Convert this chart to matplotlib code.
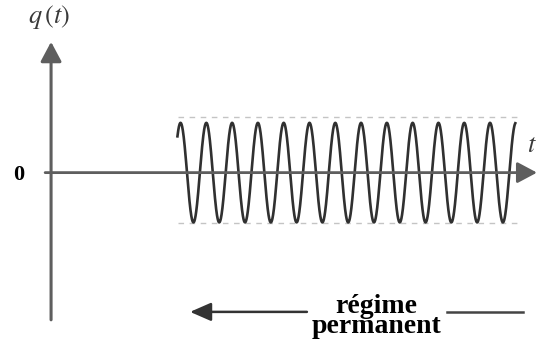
import numpy as np
import matplotlib.pyplot as plt

plt.rcParams['mathtext.fontset'] = 'stix'

# steady-state oscillation q(t) = A cos(2*pi*(t - t_peak)/T)
t_start, t_end = 4.90, 18.0
period = 1.0
amplitude = 0.94
t_peak = 5.02
envelope = [1.05, -0.96]          # dashed bounds of the oscillation
env_span = [4.92, 18.1]

# axes extent (t for horizontal, q for vertical)
t_axis = [-0.23, 18.84]
q_axis = [-2.78, 2.47]

# "régime permanent" arrow
q_regime = -2.63
regime_left = [5.39, 9.92]        # tip, tail
regime_right = [15.35, 18.29]
label = 'régime\npermanent'

fig = plt.figure(figsize=(5.38, 3.41), dpi=100)
ax = fig.add_axes([0, 0, 1, 1])
ax.set_xlim(-1.98, 18.88)
ax.set_ylim(-3.18, 3.26)
ax.axis('off')

axis_col = '#5e5e5e'
head = '-|>,head_length=0.75,head_width=0.4'

# coordinate axes
ax.annotate('', xy=(0, q_axis[1]), xytext=(0, q_axis[0]),
            arrowprops=dict(arrowstyle=head, color=axis_col, lw=2.2,
                            shrinkA=0, shrinkB=0, mutation_scale=16))
ax.annotate('', xy=(t_axis[1], 0), xytext=(t_axis[0], 0),
            arrowprops=dict(arrowstyle=head, color=axis_col, lw=2.0,
                            shrinkA=0, shrinkB=0, mutation_scale=16))

# envelope
for q in envelope:
    ax.plot(env_span, [q, q], color='#c4c4c4', lw=1.0, dashes=(4, 4))

# signal
t = np.linspace(t_start, t_end, 2000)
q = amplitude * np.cos(2 * np.pi * (t - t_peak) / period)
ax.plot(t, q, color='#303030', lw=1.9)

# axis labels
ax.text(-0.08, 2.93, r'$q\,(t)$', fontsize=19, ha='center', va='center',
        color='#3a3a3a')
ax.text(-1.26, -0.14, '0', fontsize=16, fontweight='bold',
        family='Liberation Serif', ha='center', va='baseline')
ax.text(18.45, 0.39, r'$t$', fontsize=19, ha='left', va='baseline',
        color='#3a3a3a')

# steady-state arrow and label
ax.annotate('', xy=(regime_left[0], q_regime), xytext=(regime_left[1], q_regime),
            arrowprops=dict(arrowstyle='-|>,head_length=0.8,head_width=0.35',
                            color='#333333', lw=1.8, shrinkA=0, shrinkB=0,
                            mutation_scale=16))
ax.plot(regime_right, [q_regime, q_regime], color='#444444', lw=1.8)
ax.text(12.6, -3.02, label, fontsize=20, fontweight='bold',
        family='Liberation Serif', ha='center', va='baseline',
        linespacing=0.72)

fig.savefig('out.png', dpi=100)
